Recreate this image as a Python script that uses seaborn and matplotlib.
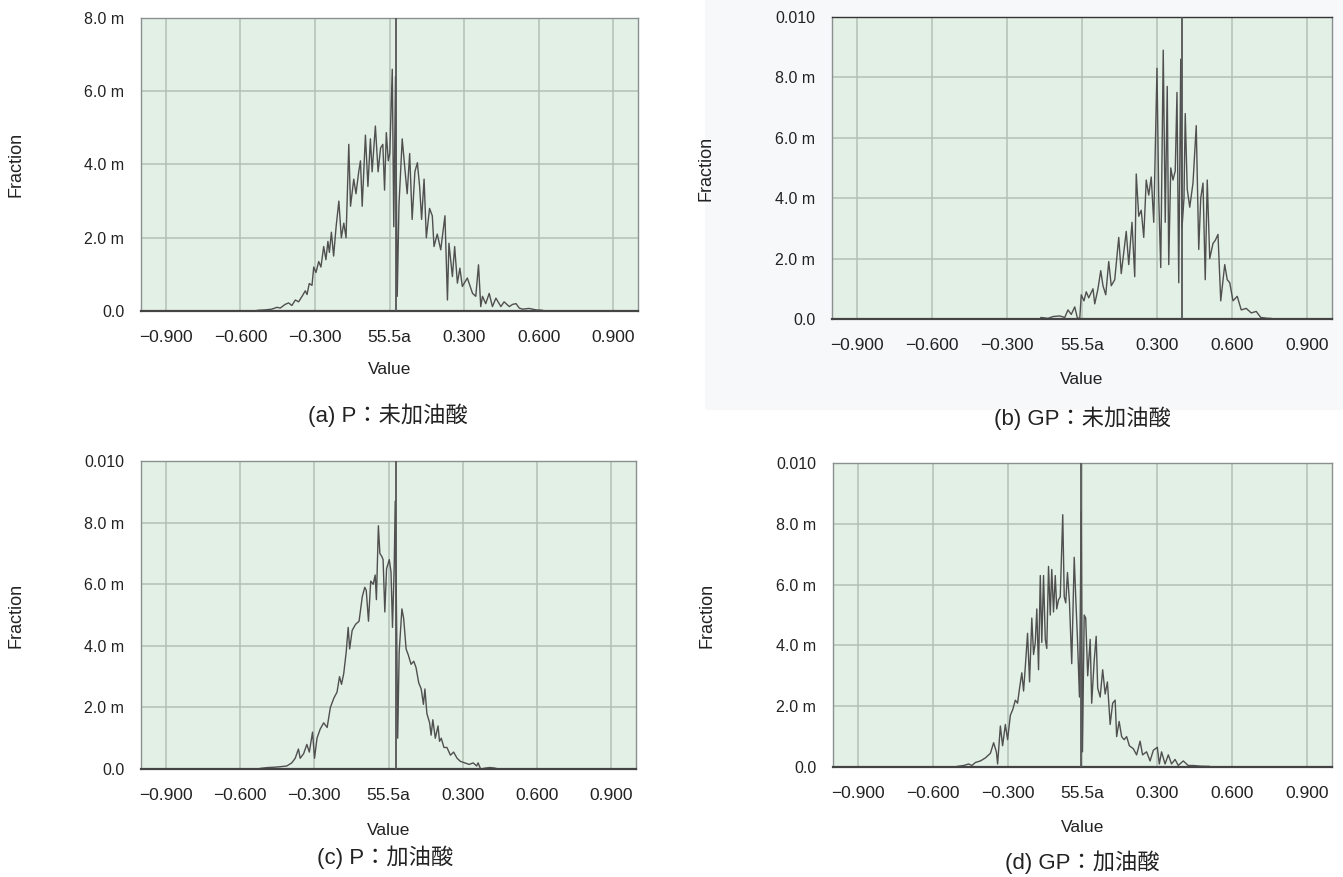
"""
Fraction vs Value distributions for four samples (P / GP, with and without oleic acid)
"""

import numpy as np
import pandas as pd
import matplotlib
matplotlib.use("Agg")
import matplotlib.pyplot as plt
from matplotlib.patches import Rectangle
import seaborn as sns

# Data (y in units of 1e-3, "m")
a_x = [-0.548, -0.527, -0.500, -0.474, -0.453, -0.440, -0.420, -0.406, -0.393, -0.379,
       -0.366, -0.352, -0.339, -0.332, -0.323, -0.312, -0.305, -0.296, -0.285, -0.276,
       -0.265, -0.256, -0.248, -0.242, -0.234, -0.225, -0.215, -0.204, -0.194, -0.184,
       -0.175, -0.164, -0.157, -0.144, -0.135, -0.124, -0.117, -0.110, -0.097, -0.087,
       -0.077, -0.070, -0.057, -0.046, -0.036, -0.027, -0.020, -0.013, -0.005, 0.001,
       0.011, 0.017, 0.024, 0.031, 0.038, 0.051, 0.062, 0.071, 0.081, 0.091,
       0.102, 0.112, 0.121, 0.129, 0.139, 0.148, 0.161, 0.172, 0.179, 0.192,
       0.206, 0.223, 0.233, 0.239, 0.253, 0.262, 0.273, 0.283, 0.293, 0.313,
       0.334, 0.347, 0.358, 0.367, 0.374, 0.387, 0.401, 0.414, 0.428, 0.448,
       0.461, 0.482, 0.495, 0.509, 0.522, 0.535, 0.562, 0.589, 0.616]
a_y = [0.0, 0.02, 0.03, 0.05, 0.10, 0.08, 0.18, 0.22, 0.15, 0.30,
       0.25, 0.40, 0.55, 0.45, 0.75, 0.70, 1.20, 1.05, 1.35, 1.20,
       1.76, 1.40, 1.90, 1.60, 2.15, 1.50, 2.30, 3.00, 2.00, 2.40,
       2.00, 4.55, 2.86, 3.60, 3.20, 3.80, 4.10, 2.86, 4.80, 3.40,
       4.70, 3.80, 5.05, 3.80, 4.45, 4.55, 3.30, 4.87, 4.10, 4.30,
       6.60, 2.30, 6.40, 0.40, 2.90, 4.70, 3.86, 3.20, 4.30, 2.50,
       3.80, 4.05, 3.40, 2.50, 3.60, 2.00, 2.80, 2.60, 1.76, 2.10,
       1.67, 2.60, 0.30, 1.85, 0.94, 1.76, 0.76, 1.17, 0.67, 0.90,
       0.48, 0.40, 1.26, 0.12, 0.40, 0.20, 0.48, 0.12, 0.35, 0.12,
       0.25, 0.12, 0.18, 0.20, 0.08, 0.05, 0.07, 0.03, 0.02]

b_x = [-0.165, -0.136, -0.116, -0.089, -0.069, -0.056, -0.043, -0.029, -0.019, -0.009,
       -0.003, 0.008, 0.017, 0.027, 0.044, 0.051, 0.064, 0.075, 0.084, 0.095,
       0.107, 0.117, 0.131, 0.147, 0.157, 0.177, 0.187, 0.200, 0.211, 0.217,
       0.227, 0.237, 0.247, 0.257, 0.267, 0.277, 0.287, 0.300, 0.307, 0.315,
       0.325, 0.333, 0.341, 0.347, 0.355, 0.364, 0.373, 0.380, 0.387, 0.395,
       0.400, 0.408, 0.413, 0.421, 0.431, 0.444, 0.457, 0.467, 0.475, 0.484,
       0.493, 0.501, 0.511, 0.524, 0.533, 0.544, 0.555, 0.571, 0.581, 0.591,
       0.604, 0.621, 0.637, 0.657, 0.677, 0.697, 0.715, 0.744, 0.757]
b_y = [0.05, 0.02, 0.08, 0.10, 0.05, 0.30, 0.15, 0.40, 0.05, 0.0,
       0.80, 0.60, 0.90, 0.70, 1.00, 0.50, 1.00, 1.60, 1.10, 0.80,
       1.90, 1.10, 1.30, 2.70, 1.50, 2.90, 1.80, 3.20, 1.40, 4.80,
       3.40, 3.60, 2.70, 4.60, 4.10, 4.70, 3.20, 8.30, 4.00, 1.70,
       8.90, 3.20, 7.70, 1.80, 5.00, 4.60, 4.90, 7.50, 1.20, 8.60,
       3.00, 4.00, 6.80, 4.30, 3.70, 4.50, 6.40, 2.30, 4.00, 4.50,
       1.30, 4.60, 2.00, 2.50, 2.60, 2.80, 0.60, 1.80, 1.30, 1.20,
       0.60, 0.75, 0.30, 0.35, 0.20, 0.25, 0.05, 0.02, 0.02]

c_x = [-0.520, -0.486, -0.459, -0.432, -0.411, -0.391, -0.377, -0.364, -0.357, -0.343,
       -0.330, -0.320, -0.307, -0.299, -0.289, -0.276, -0.262, -0.248, -0.235, -0.221,
       -0.208, -0.198, -0.190, -0.181, -0.171, -0.163, -0.157, -0.147, -0.133, -0.119,
       -0.106, -0.096, -0.090, -0.081, -0.072, -0.062, -0.054, -0.049, -0.041, -0.035,
       -0.027, -0.022, -0.015, -0.008, 0.003, 0.010, 0.016, 0.023, 0.027, 0.033,
       0.037, 0.043, 0.054, 0.061, 0.071, 0.080, 0.091, 0.102, 0.111, 0.122,
       0.132, 0.141, 0.147, 0.155, 0.166, 0.172, 0.179, 0.189, 0.200, 0.206,
       0.213, 0.224, 0.236, 0.250, 0.263, 0.277, 0.290, 0.308, 0.326, 0.342,
       0.356, 0.362, 0.372, 0.390, 0.410, 0.430, 0.444]
c_y = [0.02, 0.05, 0.06, 0.08, 0.10, 0.20, 0.35, 0.65, 0.35, 0.50,
       0.80, 0.55, 1.20, 0.35, 1.00, 1.30, 1.50, 1.35, 2.00, 2.30,
       2.50, 3.00, 2.75, 3.10, 3.80, 4.60, 3.90, 4.50, 4.70, 4.80,
       5.60, 5.90, 5.80, 4.80, 6.10, 6.00, 6.30, 5.50, 7.90, 7.00,
       6.90, 6.80, 5.10, 6.50, 6.80, 6.40, 4.60, 6.60, 8.70, 4.50,
       1.00, 3.80, 5.20, 4.90, 3.90, 3.70, 3.40, 3.50, 3.30, 2.80,
       2.60, 2.10, 2.60, 1.80, 1.50, 1.10, 1.60, 1.00, 1.40, 0.90,
       1.00, 0.70, 0.70, 0.45, 0.55, 0.35, 0.25, 0.20, 0.15, 0.20,
       0.10, 0.20, 0.0, 0.03, 0.05, 0.03, 0.0]

d_x = [-0.503, -0.476, -0.456, -0.443, -0.429, -0.409, -0.389, -0.369, -0.356, -0.345,
       -0.340, -0.329, -0.320, -0.309, -0.300, -0.289, -0.279, -0.269, -0.260, -0.252,
       -0.243, -0.236, -0.229, -0.220, -0.212, -0.203, -0.196, -0.189, -0.183, -0.176,
       -0.169, -0.163, -0.156, -0.149, -0.143, -0.136, -0.129, -0.123, -0.116, -0.109,
       -0.103, -0.096, -0.089, -0.079, -0.073, -0.067, -0.060, -0.052, -0.043, -0.033,
       -0.027, -0.020, -0.012, -0.005, 0.000, 0.007, 0.013, 0.021, 0.031, 0.037,
       0.047, 0.055, 0.061, 0.071, 0.081, 0.091, 0.100, 0.111, 0.121, 0.131,
       0.137, 0.147, 0.157, 0.167, 0.177, 0.188, 0.204, 0.217, 0.231, 0.241,
       0.257, 0.271, 0.284, 0.300, 0.308, 0.317, 0.331, 0.344, 0.357, 0.371,
       0.384, 0.404, 0.424, 0.444, 0.471, 0.511]
d_y = [0.02, 0.05, 0.10, 0.05, 0.15, 0.20, 0.30, 0.45, 0.80, 0.50,
       0.10, 1.35, 0.70, 1.40, 0.90, 1.70, 1.90, 2.20, 2.10, 2.60,
       3.10, 2.50, 3.30, 4.40, 2.80, 4.90, 3.70, 4.10, 5.20, 3.20,
       6.30, 4.10, 6.30, 4.20, 3.90, 6.60, 5.00, 6.50, 5.10, 6.30,
       5.20, 5.50, 5.60, 8.30, 5.60, 5.40, 6.40, 5.40, 3.40, 6.90,
       5.60, 4.20, 2.30, 8.40, 0.50, 5.00, 4.90, 3.00, 4.20, 2.10,
       3.50, 4.30, 2.60, 2.30, 3.20, 2.40, 2.80, 1.40, 2.10, 2.20,
       1.00, 1.50, 1.00, 0.90, 1.00, 0.70, 0.60, 0.40, 0.85, 0.40,
       0.50, 0.20, 0.55, 0.65, 0.10, 0.50, 0.10, 0.40, 0.10, 0.25,
       0.05, 0.20, 0.05, 0.05, 0.03, 0.02]

# marker line position in each panel
marker_x = [0.028, 0.399, 0.030, -0.005]

captions = ["(a) P：未加油酸", "(b) GP：未加油酸", "(c) P：加油酸", "(d) GP：加油酸"]
y_max = [8.0, 10.0, 10.0, 10.0]

x_ticks = [-0.9, -0.6, -0.3, 0.0, 0.3, 0.6, 0.9]
x_ticklabels = ["−0.900", "−0.600", "−0.300", "55.5a", "0.300", "0.600", "0.900"]
y_ticks_m = [0.0, 2.0, 4.0, 6.0, 8.0, 10.0]
y_ticklabels = ["0.0", "2.0 m", "4.0 m", "6.0 m", "8.0 m", "0.010"]

sns.set_style("white")
plt.rcParams['font.family'] = ['Liberation Sans', 'Noto Sans CJK JP', 'DejaVu Sans']

fig = plt.figure(figsize=(13.43, 8.77), dpi=100)

# faint backdrop behind panel (b)
fig.add_artist(Rectangle((0.525, 0.5325), 0.475, 0.4675, transform=fig.transFigure,
                         facecolor="#f6f8fa", edgecolor="none", zorder=-5))

positions = [
    [0.1050, 0.6454, 0.3701, 0.3341],
    [0.6195, 0.6363, 0.3723, 0.3444],
    [0.1050, 0.1231, 0.3686, 0.3512],
    [0.6202, 0.1254, 0.3716, 0.3466],
]
caption_pos = [(0.289, 0.527), (0.806, 0.523), (0.287, 0.022), (0.806, 0.017)]

series = [(a_x, a_y), (b_x, b_y), (c_x, c_y), (d_x, d_y)]

for i, (xs, ys) in enumerate(series):
    ax = fig.add_axes(positions[i])
    df = pd.DataFrame({"Value": xs, "Fraction": np.array(ys) * 1e-3})
    ax.set_facecolor("#e3f0e6")
    sns.lineplot(data=df, x="Value", y="Fraction", ax=ax, sort=False, estimator=None,
                 color="#505050", linewidth=1.0)
    ax.axvline(marker_x[i], color="#555555", linewidth=1.3, zorder=3)

    ax.set_xlim(-1.0, 1.0)
    ax.set_ylim(0, y_max[i] * 1e-3)
    ax.set_xticks(x_ticks)
    ax.set_xticklabels(x_ticklabels)
    n = 5 if y_max[i] == 8.0 else 6
    ax.set_yticks([v * 1e-3 for v in y_ticks_m[:n]])
    ax.set_yticklabels(y_ticklabels[:n])
    ax.tick_params(axis="both", length=0, colors="#222222")
    ax.tick_params(axis="x", pad=14, labelsize=12.5)
    ax.tick_params(axis="y", pad=12, labelsize=11.5)
    ax.grid(True, color="#b3c0b7", linewidth=1.1)
    ax.set_axisbelow(True)

    for side in ["left", "right", "top"]:
        ax.spines[side].set_color("#8a9090")
        ax.spines[side].set_linewidth(1.0)
    ax.spines["bottom"].set_color("#444444")
    ax.spines["bottom"].set_linewidth(1.6)
    if i == 1:
        ax.spines["top"].set_color("#333333")

    ax.set_xlabel("Value", fontsize=12.5, color="#222222")
    ax.set_ylabel("Fraction", fontsize=13, color="#222222")
    ax.xaxis.set_label_coords(0.5, -0.175)
    ax.yaxis.set_label_coords(-0.235, 0.5)

    fig.text(caption_pos[i][0], caption_pos[i][1], captions[i], ha="center", va="center",
             fontsize=16, color="#222222")

plt.savefig("out.png", dpi=100)
